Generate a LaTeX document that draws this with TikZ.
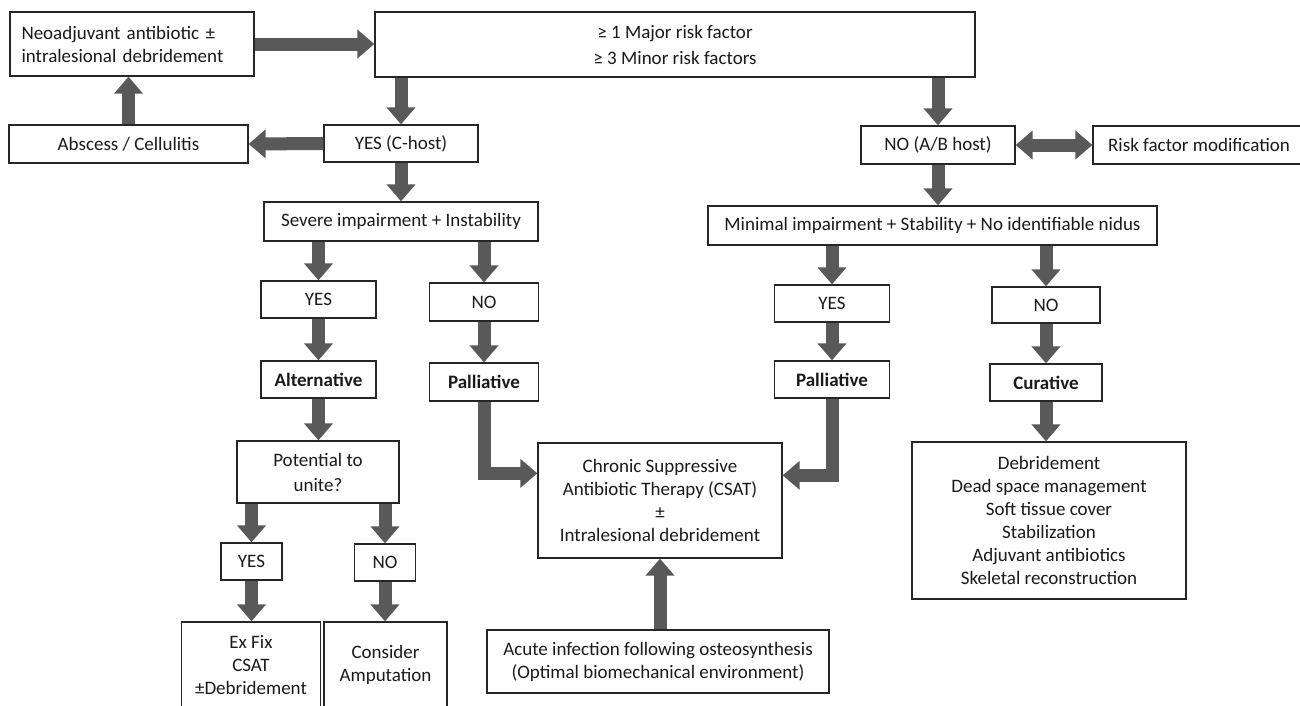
\documentclass[tikz,border=0pt]{standalone}
\usepackage{fontspec}
\setmainfont{Carlito}
\usetikzlibrary{arrows.meta}
\definecolor{arrowgray}{HTML}{595959}
\definecolor{boxline}{HTML}{262626}
\definecolor{txt}{HTML}{1A1A1A}
\begin{document}
\begin{tikzpicture}[x=1pt,y=-1pt,
  box/.style={draw=boxline, line width=1.3pt, inner sep=0pt, align=center,
    font=\fontsize{19}{23}\selectfont, text=txt},
  bbox/.style={box, font=\fontsize{19}{23}\selectfont\bfseries},
  fat/.style={draw=arrowgray, line width=13pt, -{Triangle[length=17pt,width=28pt]}},
  dbl/.style={draw=arrowgray, line width=13pt,
    {Triangle[length=17pt,width=28pt]}-{Triangle[length=17pt,width=28pt]}}]
\useasboundingbox (0,0) rectangle (1300,705);
\clip (0,0) rectangle (1300,705);
\fill[white] (0,0) rectangle (1300,705);

% top row
\node[box, minimum width=244pt, minimum height=64pt, text width=221pt, align=left] (neo) at (132,44)
  {Neoadjuvant antibiotic ±\\intralesional debridement};
\node[box, minimum width=600pt, minimum height=65pt] (risk) at (675,44.5)
  {≥ 1 Major risk factor\\[3pt]≥ 3 Minor risk factors};

% second row
\node[box, minimum width=239pt, minimum height=38pt] (abs) at (128.5,144) {Abscess / Cellulitis};
\node[box, minimum width=154pt, minimum height=37pt] (yesC) at (401,143.5) {YES (C-host)};
\node[box, minimum width=154pt, minimum height=38pt] (noAB) at (938,145) {NO (A/B host)};
\node[box, minimum width=212pt, minimum height=38pt] (rfm) at (1199,145) {Risk factor modification};

% third row
\node[box, minimum width=274pt, minimum height=39pt] (severe) at (401,221.5) {Severe impairment + Instability};
\node[box, minimum width=449pt, minimum height=39pt] (minimal) at (932.5,225.5)
  {Minimal impairment + Stability + No identifiable nidus};

% YES/NO row
\node[box, minimum width=115pt, minimum height=37pt] (yesL) at (318.5,299.5) {YES};
\node[box, minimum width=109pt, minimum height=38pt] (noL) at (484,302) {NO};
\node[box, minimum width=115pt, minimum height=37pt] (yesR) at (832,303.5) {YES};
\node[box, minimum width=108pt, minimum height=36pt] (noR) at (1046,305) {NO};

% strategy row
\node[bbox, minimum width=115pt, minimum height=37pt] (alt) at (318.5,379.5) {Alternative};
\node[bbox, minimum width=109pt, minimum height=38pt] (palL) at (484,382) {Palliative};
\node[bbox, minimum width=115pt, minimum height=37pt] (palR) at (832,379.5) {Palliative};
\node[bbox, minimum width=112pt, minimum height=37pt] (cur) at (1046,382.5) {Curative};

% lower part
\node[box, minimum width=162pt, minimum height=62pt] (pot) at (318,472) {Potential to\\[2pt]unite?};
\node[box, minimum width=244pt, minimum height=115pt] (csat) at (660,500.5)
  {Chronic Suppressive\\Antibiotic Therapy (CSAT)\\±\\Intralesional debridement};
\node[box, minimum width=274pt, minimum height=157pt] (list) at (1049,520.5)
  {Debridement\\Dead space management\\Soft tissue cover\\Stabilization\\Adjuvant antibiotics\\Skeletal reconstruction};
\node[box, minimum width=61pt, minimum height=37pt] (yesS) at (251.5,561.5) {YES};
\node[box, minimum width=61pt, minimum height=37pt] (noS) at (385,562.5) {NO};
\node[box, minimum width=342pt, minimum height=63pt] (acute) at (658,661.5)
  {Acute infection following osteosynthesis\\(Optimal biomechanical environment)};
\node[box, minimum width=139pt, minimum height=86pt] (exfix) at (251,665) {Ex Fix\\CSAT\\±Debridement};
\node[box, minimum width=123pt, minimum height=86pt] (amp) at (385.5,665) {Consider\\Amputation};

% connectors
\draw[fat] (neo.east) -- (neo.east -| risk.west);
\draw[fat] (yesC.north |- risk.south) -- (yesC.north);
\draw[fat] (noAB.north |- risk.south) -- (noAB.north);
\draw[fat] (yesC.west) -- (abs.east);
\draw[fat] (abs.north) -- (abs.north |- neo.south);
\draw[dbl] (noAB.east) -- (rfm.west);
\draw[fat] (yesC.south) -- (yesC.south |- severe.north);
\draw[fat] (noAB.south) -- (noAB.south |- minimal.north);
\draw[fat] (yesL.north |- severe.south) -- (yesL.north);
\draw[fat] (noL.north |- severe.south) -- (noL.north);
\draw[fat] (yesR.north |- minimal.south) -- (yesR.north);
\draw[fat] (noR.north |- minimal.south) -- (noR.north);
\draw[fat] (yesL.south) -- (alt.north);
\draw[fat] (noL.south) -- (palL.north);
\draw[fat] (yesR.south) -- (palR.north);
\draw[fat] (noR.south) -- (noR.south |- cur.north);
\draw[fat] (alt.south) -- (alt.south |- pot.north);
\draw[fat] (cur.south) -- (cur.south |- list.north);
\draw[fat] (palL.south) |- ([yshift=-31pt]csat.north west);
\draw[fat] (palR.south) |- ([yshift=-33pt]csat.north east);
\draw[fat] (acute.north -| csat.south) -- (csat.south);
\draw[fat] (yesS.north |- pot.south) -- (yesS.north);
\draw[fat] (noS.north |- pot.south) -- (noS.north);
\draw[fat] (yesS.south) -- (yesS.south |- exfix.north);
\draw[fat] (noS.south) -- (noS.south |- amp.north);
\end{tikzpicture}
\end{document}
